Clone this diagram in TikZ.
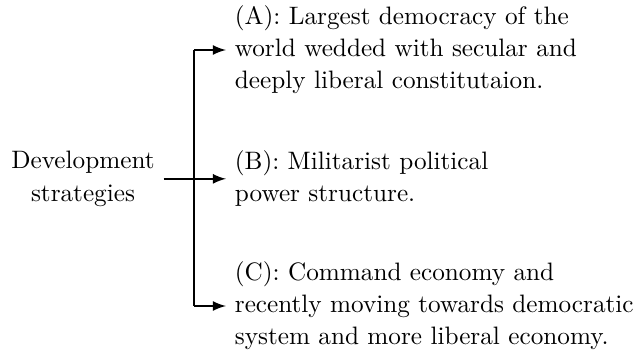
\documentclass[tikz,border=0pt]{standalone}
\usepackage{tikz}
\usetikzlibrary{arrows, positioning}
\tikzstyle{strategy} = [align=left, anchor=west, font=\linespread{1.06}\selectfont]
\tikzstyle{root} = [align=center, font=\linespread{1.06}\selectfont]
\tikzstyle{arrow} = [thick,->,>=latex]

\begin{document}
\begin{tikzpicture}
\useasboundingbox (0,0) rectangle (8.88,4.893);

\node (dev) [root] at (1.157,2.40) {Development\\strategies};
\node (a) [strategy] at (3.150,4.196) {(A): Largest democracy of the\\world wedded with secular and\\deeply liberal constitutaion.};
\node (b) [strategy] at (3.150,2.40) {(B): Militarist political\\power structure.};
\node (c) [strategy] at (3.150,0.627) {(C): Command economy and\\recently moving towards democratic\\system and more liberal economy.};
\coordinate (fork) at (2.704,2.40);

\draw [thick] (fork |- a.west) -- (fork |- c.west);
\draw [arrow] (dev.east) -- (b.west);
\draw [arrow] (fork |- a.west) -- (a.west);
\draw [arrow] (fork |- c.west) -- (c.west);

\end{tikzpicture}
\end{document}
